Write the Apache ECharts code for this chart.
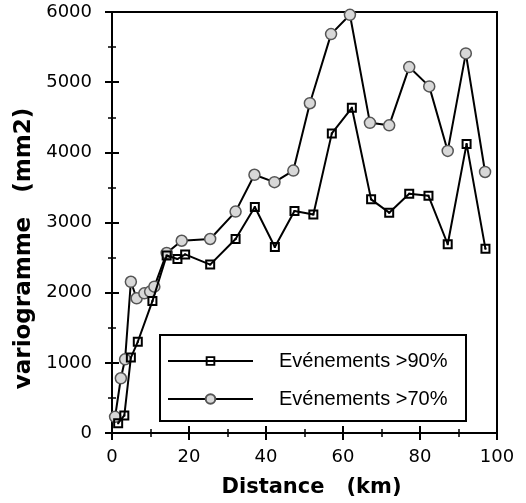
<!DOCTYPE html>
<html>
<head>
<meta charset="utf-8">
<script src="https://cdn.jsdelivr.net/npm/echarts@6/dist/echarts.min.js"></script>
<style>
html,body{margin:0;padding:0;background:#fff;}
#chart{width:526px;height:503px;}
</style>
</head>
<body>
<div id="chart"></div>
<script>
// Data
const seriesNames = ['Evénements >90%', 'Evénements >70%'];
const dist90 = [1.6, 3.2, 4.9, 6.7, 10.5, 14.2, 17.0, 19.0, 25.5, 32.1, 37.1, 42.3, 47.4, 52.3, 57.1, 62.3, 67.3, 72.0, 77.2, 82.2, 87.2, 92.1, 97.0];
const var90  = [140, 250, 1075, 1300, 1880, 2530, 2480, 2545, 2400, 2765, 3220, 2650, 3165, 3115, 4270, 4635, 3330, 3140, 3410, 3380, 2690, 4120, 2625];
const dist70 = [0.8, 2.3, 3.4, 4.9, 6.4, 8.4, 9.9, 11.0, 14.2, 18.1, 25.5, 32.1, 37.0, 42.2, 47.1, 51.4, 56.9, 61.8, 67.0, 72.0, 77.2, 82.4, 87.2, 91.9, 96.9];
const var70  = [230, 780, 1050, 2155, 1920, 1990, 2015, 2085, 2565, 2740, 2765, 3155, 3680, 3575, 3740, 4700, 5685, 5960, 4420, 4385, 5215, 4940, 4020, 5410, 3720];
const xTicks = {min: 0, max: 100, interval: 20};
const yTicks = {min: 0, max: 6000, interval: 1000};
const xTitle = 'Distance   (km)';
const yTitle = 'variogramme   (mm2)';

const pairs = (xs, ys) => xs.map((x, i) => [x, ys[i]]);

const squareDot = 'path://M0,0H10V10H0Z M2,2V8H8V2Z M4,4H6V6H4Z';

const chart = echarts.init(document.getElementById('chart'), null, {renderer: 'canvas'});

const axisCommon = {
  axisLine: {show: false},
  axisTick: {show: true, inside: true, length: 7, lineStyle: {color: '#000', width: 2}},
  minorTick: {show: true, splitNumber: 2, length: 4, lineStyle: {color: '#000', width: 1.5}},
  splitLine: {show: false}
};

chart.setOption({
  animation: false,
  backgroundColor: '#fff',
  grid: {left: 112, top: 12, right: 29, bottom: 65, show: true, borderColor: '#000', borderWidth: 2, backgroundColor: 'transparent'},
  xAxis: [
    Object.assign({
      type: 'value', position: 'bottom',
      min: xTicks.min, max: xTicks.max, interval: xTicks.interval,
      name: xTitle, nameLocation: 'middle', nameGap: 44,
      nameTextStyle: {fontFamily: 'DejaVu Sans', fontWeight: 'bold', fontSize: 21, color: '#000', padding: [0, 0, 0, 14]},
      axisLabel: {margin: 15, fontFamily: 'DejaVu Sans', fontSize: 18, color: '#000', formatter: v => String(v)}
    }, axisCommon),
    Object.assign({
      type: 'value', position: 'top',
      min: xTicks.min, max: xTicks.max, interval: xTicks.interval,
      axisLabel: {show: false}
    }, axisCommon)
  ],
  yAxis: [
    Object.assign({
      type: 'value', position: 'left',
      min: yTicks.min, max: yTicks.max, interval: yTicks.interval,
      name: yTitle, nameLocation: 'middle', nameGap: 76, nameRotate: 90,
      nameTextStyle: {fontFamily: 'DejaVu Sans', fontWeight: 'bold', fontSize: 23, color: '#000', padding: [0, 52, 0, 0]},
      axisLabel: {margin: 20, fontFamily: 'DejaVu Sans', fontSize: 18, color: '#000', formatter: v => String(v)}
    }, axisCommon),
    Object.assign({
      type: 'value', position: 'right',
      min: yTicks.min, max: yTicks.max, interval: yTicks.interval,
      axisLabel: {show: false}
    }, axisCommon)
  ],
  legend: {
    orient: 'vertical',
    left: 167, top: 351,
    itemWidth: 85, itemHeight: 12,
    itemGap: 18,
    padding: 0,
    textStyle: {fontFamily: 'Liberation Sans', fontSize: 20, color: '#000', lineHeight: 20, padding: [0, 0, 0, 21]},
    data: seriesNames
  },
  graphic: [{
    type: 'rect',
    shape: {x: 160, y: 335, width: 306, height: 86},
    style: {fill: 'none', stroke: '#000', lineWidth: 2},
    z: 100
  }],
  series: [
    {
      name: seriesNames[0], type: 'line',
      data: pairs(dist90, var90),
      symbol: squareDot, symbolSize: 10,
      lineStyle: {color: '#000', width: 2},
      itemStyle: {color: '#000'},
      z: 3
    },
    {
      name: seriesNames[1], type: 'line',
      data: pairs(dist70, var70),
      symbol: 'circle', symbolSize: 11,
      lineStyle: {color: '#000', width: 2},
      itemStyle: {color: '#d8d8d8', borderColor: '#555', borderWidth: 1.5},
      z: 2
    }
  ]
});
</script>
</body>
</html>
